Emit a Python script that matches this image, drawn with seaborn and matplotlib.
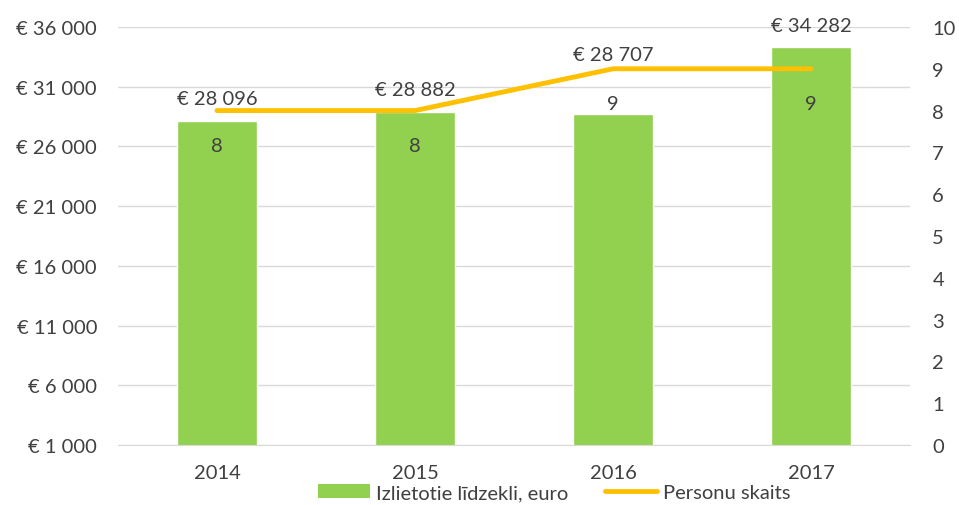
import pandas as pd
import seaborn as sns
import matplotlib.pyplot as plt
from matplotlib.patches import Patch
from matplotlib.lines import Line2D

sns.set_style("white")
plt.rcParams['font.family'] = ['Lato', 'DejaVu Sans']

# data
years = ["2014", "2015", "2016", "2017"]
spent = [28096, 28882, 28707, 34282]
persons = [8, 8, 9, 9]
left_ticks = [1000, 6000, 11000, 16000, 21000, 26000, 31000, 36000]
right_ticks = list(range(0, 11))

text_col = "#404040"
green = "#92D050"
orange = "#FFC000"
fs = 14.5


def euro(v):
    return "€ " + f"{v:,.0f}".replace(",", " ")


df = pd.DataFrame({"year": years, "spent": spent, "persons": persons})

fig = plt.figure(figsize=(9.59, 5.06), dpi=100)
ax = fig.add_axes([0.123, 0.1186, 0.826, 0.8261])

sns.barplot(data=df, x="year", y="spent", color=green, width=0.4,
            saturation=1, ax=ax, zorder=2)
ax.set_ylim(1000, 36000)
ax.set_yticks(left_ticks)
ax.set_yticklabels([euro(t) for t in left_ticks])
ax.set_xlim(-0.5, 3.5)
ax.set_xlabel("")
ax.set_ylabel("")
ax.yaxis.grid(True, color="#D9D9D9", linewidth=1)
ax.set_axisbelow(True)
for s in ["top", "right", "left"]:
    ax.spines[s].set_visible(False)
ax.spines["bottom"].set_color("#D9D9D9")
ax.tick_params(axis="x", length=0, labelsize=fs, colors=text_col, pad=14)
ax.tick_params(axis="y", length=0, labelsize=fs, colors=text_col, pad=15)

bar_texts = ax.bar_label(ax.containers[0], labels=[euro(v) for v in spent],
                         padding=10, fontsize=fs, color=text_col)
# 2016 label sits above the line in the original
bar_texts[2].xyann = (0, 37)

ax2 = ax.twinx()
sns.lineplot(data=df, x="year", y="persons", color=orange, linewidth=3.5,
             ax=ax2, solid_capstyle="round")
ax2.set_ylim(0, 10)
ax2.set_yticks(right_ticks)
ax2.set_ylabel("")
for s in ["top", "right", "left", "bottom"]:
    ax2.spines[s].set_visible(False)
ax2.tick_params(axis="y", length=0, labelsize=fs, colors=text_col, pad=16)

for i, p in enumerate(persons):
    ax2.annotate(str(p), (i, p), xytext=(0, -25), textcoords="offset points",
                 ha="center", va="center", fontsize=fs, color=text_col)

handles = [Patch(facecolor=green, edgecolor="none"),
           Line2D([0], [0], color=orange, linewidth=3.5, solid_capstyle="round")]
fig.legend(handles, ["Izlietotie līdzekli, euro", "Personu skaits"],
           loc="lower center", bbox_to_anchor=(0.578, -0.028), ncol=2,
           frameon=False, fontsize=fs, handlelength=2.6, handletextpad=0.3,
           columnspacing=1.8, labelcolor=text_col)

fig.savefig("out.png", dpi=100)
